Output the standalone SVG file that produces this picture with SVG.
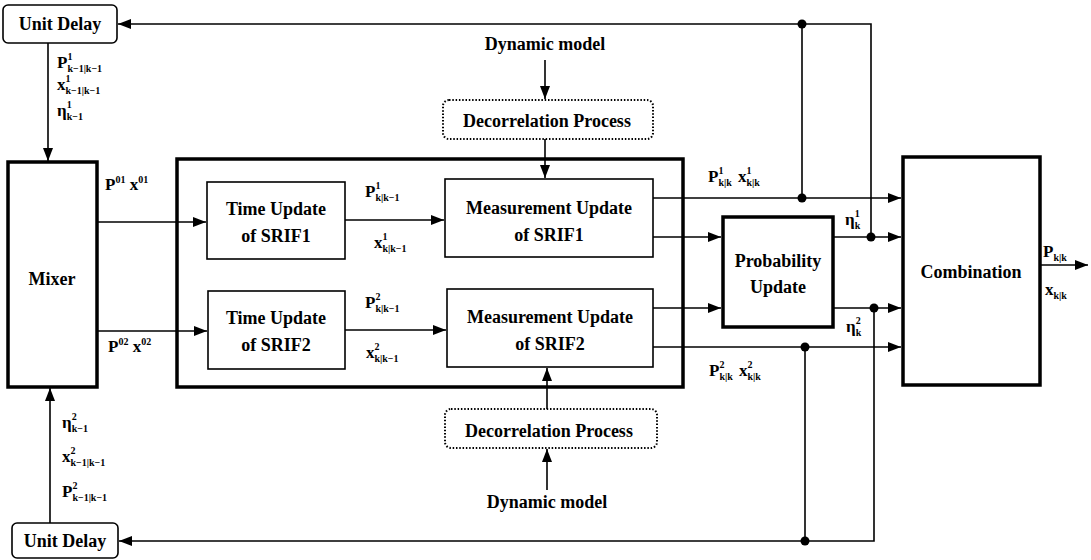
<svg xmlns="http://www.w3.org/2000/svg" width="1091" height="560" viewBox="0 0 1091 560">
<defs>
<marker id="ah" markerWidth="14" markerHeight="11" refX="13" refY="5" orient="auto" markerUnits="userSpaceOnUse"><path d="M0,0 L13,5 L0,10 z" fill="#000"/></marker>
<style>
.b{fill:#fff;stroke:#000;stroke-width:1.6}
.B{fill:#fff;stroke:#000;stroke-width:3.5}
.F{fill:none;stroke:#000;stroke-width:3.5}
.d{fill:#fff;stroke:#000;stroke-width:2;stroke-dasharray:1.5 1.8}
.c{fill:none;stroke:#000;stroke-width:1.6}
.a{marker-end:url(#ah)}
text{font-family:"Liberation Serif","Times New Roman",serif;font-weight:bold;fill:#000}
.t{font-size:18px;text-anchor:middle}
.m{font-size:17px}
.s{font-size:10px}
</style>
</defs>
<rect width="1091" height="560" fill="#fff"/>
<g id="filter-bank"><rect class="F" x="177" y="159" width="506" height="228"/></g>
<g id="connectors">
<path class="c a" d="M871,237 V24 H118"/>
<path class="c" d="M802,198 V24"/>
<path class="c a" d="M48,43 V161"/>
<path class="c a" d="M50,523 V388"/>
<path class="c a" d="M874,308 V541 H119"/>
<path class="c" d="M805,347 V541"/>
<path class="c a" d="M97,222 H206"/>
<path class="c a" d="M97,331 H207"/>
<path class="c a" d="M345,220 H444"/>
<path class="c a" d="M345,330 H446"/>
<path class="c a" d="M653,198 H901"/>
<path class="c a" d="M653,237 H721"/>
<path class="c a" d="M653,308 H721"/>
<path class="c a" d="M653,347 H901"/>
<path class="c a" d="M833,237 H901"/>
<path class="c a" d="M833,308 H901"/>
<path class="c a" d="M1040,265 H1088"/>
<path class="c a" d="M545,60 V99"/>
<path class="c a" d="M545,139 V178"/>
<path class="c a" d="M547,490 V449"/>
<path class="c a" d="M547,409 V368"/>
<circle cx="802" cy="24" r="4.5"/>
<circle cx="802" cy="198" r="4.5"/>
<circle cx="871" cy="237" r="4.5"/>
<circle cx="874" cy="308" r="4.5"/>
<circle cx="805" cy="347" r="4.5"/>
<circle cx="805" cy="541" r="4.5"/>
</g>
<g id="unit-delay-1"><rect class="b" x="3" y="5" width="114" height="38" rx="5"/><text class="t" x="60" y="30">Unit Delay</text></g>
<g id="unit-delay-2"><rect class="b" x="12" y="523" width="106" height="35" rx="5"/><text class="t" x="65" y="547">Unit Delay</text></g>
<g id="mixer"><rect class="B" x="8" y="162" width="89" height="225"/><text class="t" x="52" y="285">Mixer</text></g>
<g id="time-update-1"><rect class="b" x="207" y="182" width="138" height="77"/><text class="t" x="276" y="215">Time Update</text><text class="t" x="276" y="242">of SRIF1</text></g>
<g id="time-update-2"><rect class="b" x="208" y="291" width="137" height="78"/><text class="t" x="276" y="324">Time Update</text><text class="t" x="276" y="351">of SRIF2</text></g>
<g id="meas-update-1"><rect class="b" x="445" y="179" width="208" height="78"/><text class="t" x="549" y="214">Measurement Update</text><text class="t" x="549" y="241">of SRIF1</text></g>
<g id="meas-update-2"><rect class="b" x="447" y="289" width="206" height="78"/><text class="t" x="550" y="323">Measurement Update</text><text class="t" x="550" y="350">of SRIF2</text></g>
<g id="decor-1"><rect class="d" x="443" y="100" width="210" height="39" rx="6"/><text class="t" x="547" y="127">Decorrelation Process</text></g>
<g id="decor-2"><rect class="d" x="445" y="409" width="212" height="39" rx="6"/><text class="t" x="549" y="437">Decorrelation Process</text></g>
<g id="dyn-1"><text class="t" x="545" y="50">Dynamic model</text></g>
<g id="dyn-2"><text class="t" x="547" y="508">Dynamic model</text></g>
<g id="prob-update"><rect class="B" x="723" y="217" width="110" height="110"/><text class="t" x="778" y="267">Probability</text><text class="t" x="778" y="293">Update</text></g>
<g id="combination"><rect class="B" x="903" y="157" width="137" height="228"/><text class="t" x="971" y="278">Combination</text></g>
<g id="labels">
<text class="m" x="57" y="68">P<tspan class="s" dy="-8">1</tspan><tspan class="s" dx="-5" dy="12">k−1|k−1</tspan></text>
<text class="m" x="57" y="90">x<tspan class="s" dy="-8">1</tspan><tspan class="s" dx="-5" dy="12">k−1|k−1</tspan></text>
<text class="m" x="57" y="116">η<tspan class="s" dy="-8">1</tspan><tspan class="s" dx="-5" dy="12">k−1</tspan></text>
<text class="m" x="62" y="428">η<tspan class="s" dy="-8">2</tspan><tspan class="s" dx="-5" dy="12">k−1</tspan></text>
<text class="m" x="62" y="462">x<tspan class="s" dy="-8">2</tspan><tspan class="s" dx="-5" dy="12">k−1|k−1</tspan></text>
<text class="m" x="62" y="497">P<tspan class="s" dy="-8">2</tspan><tspan class="s" dx="-5" dy="12">k−1|k−1</tspan></text>
<text class="m" x="105" y="190">P<tspan class="s" dy="-7">01</tspan><tspan dy="7"> x</tspan><tspan class="s" dy="-7">01</tspan></text>
<text class="m" x="108" y="352">P<tspan class="s" dy="-7">02</tspan><tspan dy="7"> x</tspan><tspan class="s" dy="-7">02</tspan></text>
<text class="m" x="365" y="197">P<tspan class="s" dy="-8">1</tspan><tspan class="s" dx="-5" dy="12">k|k−1</tspan></text>
<text class="m" x="374" y="248">x<tspan class="s" dy="-8">1</tspan><tspan class="s" dx="-5" dy="12">k|k−1</tspan></text>
<text class="m" x="365" y="308">P<tspan class="s" dy="-8">2</tspan><tspan class="s" dx="-5" dy="12">k|k−1</tspan></text>
<text class="m" x="366" y="358">x<tspan class="s" dy="-8">2</tspan><tspan class="s" dx="-5" dy="12">k|k−1</tspan></text>
<text class="m" x="708" y="182">P<tspan class="s" dy="-8">1</tspan><tspan class="s" dx="-5" dy="12">k|k</tspan></text>
<text class="m" x="738" y="182">x<tspan class="s" dy="-8">1</tspan><tspan class="s" dx="-5" dy="12">k|k</tspan></text>
<text class="m" x="709" y="376">P<tspan class="s" dy="-8">2</tspan><tspan class="s" dx="-5" dy="12">k|k</tspan></text>
<text class="m" x="739" y="376">x<tspan class="s" dy="-8">2</tspan><tspan class="s" dx="-5" dy="12">k|k</tspan></text>
<text class="m" x="845" y="225">η<tspan class="s" dy="-8">1</tspan><tspan class="s" dx="-5" dy="12">k</tspan></text>
<text class="m" x="846" y="332">η<tspan class="s" dy="-8">2</tspan><tspan class="s" dx="-5" dy="12">k</tspan></text>
<text class="m" x="1043" y="257">P<tspan class="s" dy="4">k|k</tspan></text>
<text class="m" x="1045" y="295">x<tspan class="s" dy="4">k|k</tspan></text>
</g>
</svg>
